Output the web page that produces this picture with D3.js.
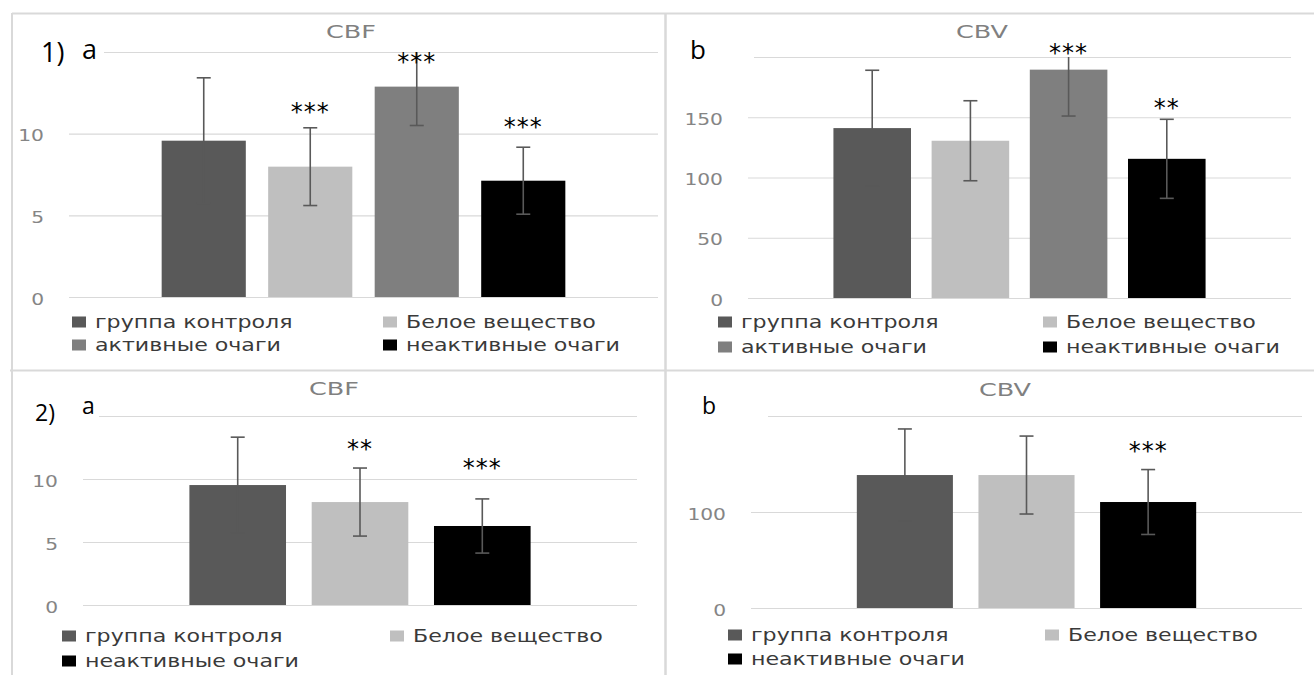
<!DOCTYPE html>
<html>
<head>
<meta charset="utf-8">
<script src="https://cdn.jsdelivr.net/npm/d3@7"></script>
<style>
  body { margin: 0; background: #fff; }
</style>
</head>
<body>
<script>
// Series / categories
let groups4 = ["группа контроля", "Белое вещество", "активные очаги", "неактивные очаги"];
let groups3 = ["группа контроля", "Белое вещество", "неактивные очаги"];

// Panel 1a - CBF (means, sd, significance marks, level of the marks)
let cbf1Means = [9.57, 7.98, 12.88, 7.12];
let cbf1Errors = [3.85, 2.38, 2.38, 2.05];
let cbf1Stars = ["", "***", "***", "***"];
let cbf1StarLevels = [null, 11.66, 14.7, 10.74];

// Panel 1b - CBV
let cbv1Means = [141, 130.5, 189.5, 115.5];
let cbv1Errors = [48, 33.2, 38.5, 32.8];
let cbv1Stars = ["", "", "***", "**"];
let cbv1StarLevels = [null, null, 207.5, 162];

// Panel 2a - CBF
let cbf2Means = [9.52, 8.17, 6.27];
let cbf2Errors = [3.8, 2.7, 2.15];
let cbf2Stars = ["", "**", "***"];
let cbf2StarLevels = [null, 12.78, 11.27];

// Panel 2b - CBV
let cbv2Means = [138.5, 138.5, 110.4];
let cbv2Errors = [48, 40.6, 33.8];
let cbv2Stars = ["", "", "***"];
let cbv2StarLevels = [null, null, 168.7];

// Tick values (the top one sits under the panel letter box, so no label)
let cbfTicks = [0, 5, 10, 15];
let cbv1Ticks = [0, 50, 100, 150, 200];
let cbv2Ticks = [0, 100, 200];

// colours
let colorOf = {
  "группа контроля": "#595959",
  "Белое вещество": "#bfbfbf",
  "активные очаги": "#7f7f7f",
  "неактивные очаги": "#000000"
};

let svgWidth = 1314;
let svgHeight = 675;

let svg = d3.select("body")
  .append("svg")
  .attr("width", svgWidth)
  .attr("height", svgHeight);

// stretched text, the source picture is wider than tall
function addText(g, x, y, str, o) {
  return g.append("text")
    .attr("transform", `translate(${x},${y}) scale(${o.k || 1},1)`)
    .attr("text-anchor", o.anchor || "start")
    .style("font-family", o.family || "'DejaVu Sans', Verdana, sans-serif")
    .style("font-size", o.size + "px")
    .style("letter-spacing", o.ls || null)
    .style("fill", o.color || "#000")
    .text(str);
}

// frames around the four charts
let frameLines = [
  [12, 13.5, 1314, 13.5, 2],
  [10, 370.5, 1314, 370.5, 2],
  [12, 13, 12, 675, 2],
  [665.5, 13, 665.5, 675, 2.5]
];
svg.selectAll(".frame")
  .data(frameLines)
  .enter()
  .append("line")
  .attr("x1", d => d[0]).attr("y1", d => d[1])
  .attr("x2", d => d[2]).attr("y2", d => d[3])
  .style("stroke", "#d9d9d9")
  .style("stroke-width", d => d[4]);

let panels = [
  {
    names: groups4, means: cbf1Means, errors: cbf1Errors, stars: cbf1Stars, levels: cbf1StarLevels,
    ticks: cbfTicks, title: "CBF",
    xr: [69, 658], yr: [297, 52], titleX: 351, titleY: 38,
    legCols: [72, 383], legRows: [322, 345],
    cover: [14, 40, 90, 28],
    labels: [["1)", 41, 62, 27], ["a", 82, 59, 27]]
  },
  {
    names: groups4, means: cbv1Means, errors: cbv1Errors, stars: cbv1Stars, levels: cbv1StarLevels,
    ticks: cbv1Ticks, title: "CBV",
    xr: [748, 1291], yr: [298, 57], titleX: 982, titleY: 38,
    legCols: [718, 1043], legRows: [322, 347],
    cover: [669, 44, 85, 26],
    labels: [["b", 690, 59, 26]]
  },
  {
    names: groups3, means: cbf2Means, errors: cbf2Errors, stars: cbf2Stars, levels: cbf2StarLevels,
    ticks: cbfTicks, title: "CBF",
    xr: [83, 637], yr: [605, 416], titleX: 334, titleY: 395,
    legCols: [62, 390], legRows: [636, 661],
    cover: [14, 404, 85, 24],
    labels: [["2)", 35, 421, 23], ["a", 82, 414, 23]]
  },
  {
    names: groups3, means: cbv2Means, errors: cbv2Errors, stars: cbv2Stars, levels: cbv2StarLevels,
    ticks: cbv2Ticks, title: "CBV",
    xr: [751, 1302], yr: [608, 416], titleX: 1005, titleY: 396,
    legCols: [728, 1045], legRows: [635, 659],
    cover: [668, 404, 100, 24],
    labels: [["b", 702, 414, 23]]
  }
];

panels.forEach(function(p) {
  let g = svg.append("g");
  let rows = p.names.map((n, i) => ({ name: n, mean: p.means[i], err: p.errors[i], star: p.stars[i], level: p.levels[i] }));
  let yMax = p.ticks[p.ticks.length - 1];

  let xScale = d3.scaleBand()
    .domain(p.names)
    .range(p.xr)
    .paddingInner(0.21)
    .paddingOuter(0.87);

  let yScale = d3.scaleLinear([0, yMax], p.yr);

  // gridlines + tick labels
  let yAxis = d3.axisLeft(yScale)
    .tickValues(p.ticks)
    .tickSize(-(p.xr[1] - p.xr[0]))
    .tickPadding(25)
    .tickFormat(d => d === yMax ? "" : d3.format("d")(d));

  let ag = g.append("g")
    .attr("transform", `translate(${p.xr[0]},0)`)
    .call(yAxis);
  ag.select(".domain").remove();
  ag.selectAll(".tick line").style("stroke", "#d9d9d9").style("stroke-width", 1.2);
  ag.selectAll(".tick text")
    .attr("x", null)
    .attr("dy", null)
    .attr("transform", "translate(-25,7) scale(1.35,1)")
    .style("font-family", "'DejaVu Sans', Verdana, sans-serif")
    .style("font-size", "15px")
    .style("fill", "#858585");

  // white text boxes that hold the panel letters
  g.append("rect")
    .attr("x", p.cover[0]).attr("y", p.cover[1])
    .attr("width", p.cover[2]).attr("height", p.cover[3])
    .style("fill", "#fff");
  p.labels.forEach(l => addText(g, l[1], l[2], l[0], { size: l[3], family: "'Open Sans', 'Noto Sans', sans-serif", color: "#000" }));

  // bars
  g.selectAll(".bar")
    .data(rows)
    .enter()
    .append("rect")
    .attr("x", d => xScale(d.name))
    .attr("width", xScale.bandwidth())
    .attr("y", d => yScale(d.mean))
    .attr("height", d => yScale(0) - yScale(d.mean))
    .style("fill", d => colorOf[d.name]);

  // error bars, clipped at the axis max like excel does
  let capW = 7;
  rows.forEach(function(d) {
    let cx = xScale(d.name) + xScale.bandwidth() / 2;
    let hi = Math.min(d.mean + d.err, yMax);
    let lo = Math.max(d.mean - d.err, 0);
    g.append("line")
      .attr("x1", cx).attr("x2", cx)
      .attr("y1", yScale(hi)).attr("y2", yScale(lo))
      .style("stroke", "#595959").style("stroke-width", 1.6);
    let caps = [lo];
    if (d.mean + d.err <= yMax) caps.push(hi);
    caps.forEach(v => {
      g.append("line")
        .attr("x1", cx - capW).attr("x2", cx + capW)
        .attr("y1", yScale(v)).attr("y2", yScale(v))
        .style("stroke", "#595959").style("stroke-width", 1.6);
    });
    if (d.star) {
      addText(g, cx, yScale(d.level) + 13, d.star, { size: 24, anchor: "middle", ls: "1px", color: "#000" });
    }
  });

  // title
  addText(g, p.titleX, p.titleY, p.title, { size: 17, k: 1.5, anchor: "middle", color: "#808080" });

  // legend, two columns, row-major
  rows.forEach(function(d, i) {
    let lx = p.legCols[i % 2];
    let ly = p.legRows[Math.floor(i / 2)];
    g.append("rect")
      .attr("x", lx).attr("y", ly - 5.5)
      .attr("width", 14).attr("height", 11)
      .style("fill", colorOf[d.name]);
    addText(g, lx + 23, ly + 5.5, d.name, { size: 18, k: 1.23, color: "#3a3a3a" });
  });
});
</script>
</body>
</html>
